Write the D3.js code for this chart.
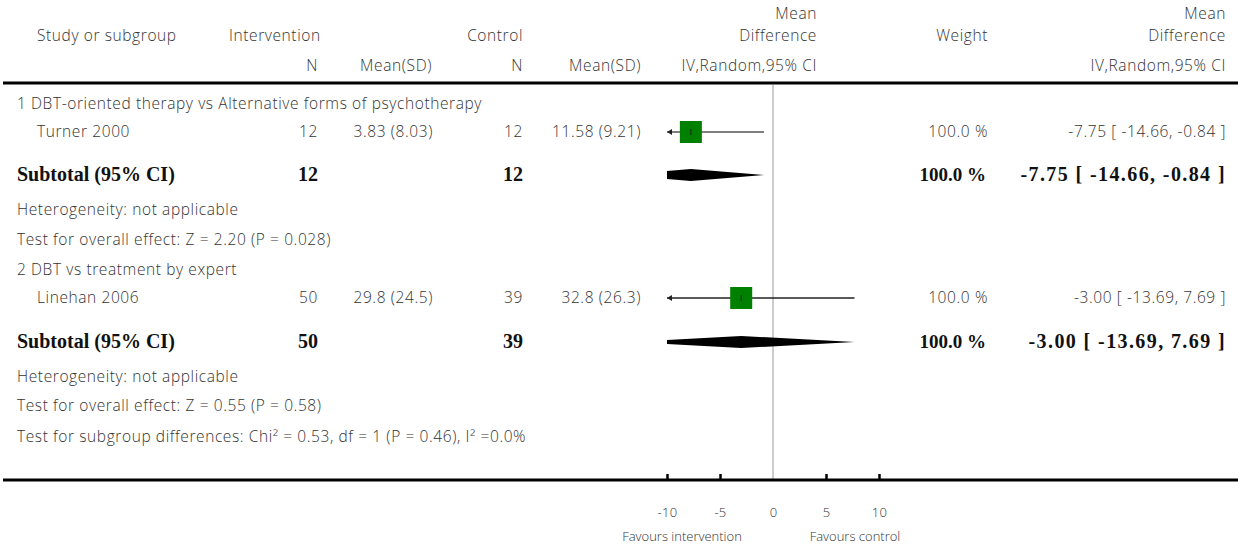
<!DOCTYPE html>
<html><head><meta charset="utf-8">
<script src="https://cdn.jsdelivr.net/npm/d3@7"></script>
<style>
body{margin:0;background:#fff;}
text{font-family:"Open Sans",Lato,sans-serif;font-size:15.5px;font-weight:300;fill:#333;letter-spacing:0.6px;}
text.b{font-family:"Liberation Serif","DejaVu Serif",serif;font-weight:bold;font-size:20px;fill:#111;letter-spacing:0;}
text.bn{letter-spacing:1.4px;}
</style></head><body>
<svg id="c" width="1238" height="547"></svg>
<script>
// ---- data ----
const groupTitles = ["1 DBT-oriented therapy vs Alternative forms of psychotherapy", "2 DBT vs treatment by expert"];
const studyNames = ["Turner 2000", "Linehan 2006"];
const nInt = [12, 50];
const meanSdInt = ["3.83 (8.03)", "29.8 (24.5)"];
const nCtl = [12, 39];
const meanSdCtl = ["11.58 (9.21)", "32.8 (26.3)"];
const md = [-7.75, -3.00];
const lo = [-14.66, -13.69];
const hi = [-0.84, 7.69];
const weights = [100.0, 100.0];
const subMd = [-7.75, -3.00];
const subLo = [-14.66, -13.69];
const subHi = [-0.84, 7.69];
const heterogeneity = ["Heterogeneity: not applicable", "Heterogeneity: not applicable"];
const overall = ["Test for overall effect: Z = 2.20 (P = 0.028)", "Test for overall effect: Z = 0.55 (P = 0.58)"];
const subgroupDiff = "Test for subgroup differences: Chi\u00B2 = 0.53, df = 1 (P = 0.46), I\u00B2 =0.0%";
const tickValues = [-10, -5, 0, 5, 10];
const domain = [-10, 10];

const svg = d3.select("#c");
const x = d3.scaleLinear().domain(domain).range([667, 879]);
const f2 = v => d3.format(".2f")(v).replace("\u2212", "-");
const ci = (m,l,h)=>`${f2(m)} [ ${f2(l)}, ${f2(h)} ]`;

function t(xp, y, s, anchor="start", cls=null){
  const e = svg.append("text").attr("x", xp).attr("y", y).attr("text-anchor", anchor).text(s);
  if(cls) e.attr("class", cls);
  return e;
}
// header
t(37, 41, "Study or subgroup");
t(229, 41, "Intervention");
t(523, 41, "Control", "end");
t(817, 19, "Mean", "end");
t(817, 41, "Difference", "end");
t(988, 41, "Weight", "end");
t(1226, 19, "Mean", "end");
t(1226, 41, "Difference", "end");
t(318, 71, "N", "end");
t(432, 71, "Mean(SD)", "end");
t(523, 71, "N", "end");
t(641, 71, "Mean(SD)", "end");
t(817, 71, "IV,Random,95% CI", "end");
t(1226, 71, "IV,Random,95% CI", "end");

svg.append("line").attr("x1", 3).attr("x2", 1238).attr("y1", 83).attr("y2", 83).attr("stroke", "#000").attr("stroke-width", 3);

// clip
svg.append("clipPath").attr("id","pc").append("rect").attr("x", x(-10)).attr("y", 85).attr("width", x(10)-x(-10)).attr("height", 390);

// zero line
svg.append("line").attr("x1", x(0)).attr("x2", x(0)).attr("y1", 85).attr("y2", 480).attr("stroke", "#999").attr("stroke-width", 1);

const groupY = [[104,132,175,210,240],[270,298,342,377,406]];
groupTitles.forEach((g,i)=>{
  const [yh, ys, ysub, yhet, yov] = groupY[i];
  t(17, yh+5, g);
  t(37, ys+5, studyNames[i]);
  t(318, ys+5, nInt[i], "end");
  t(433, ys+5, meanSdInt[i], "end");
  t(523, ys+5, nCtl[i], "end");
  t(641, ys+5, meanSdCtl[i], "end");
  t(988, ys+5, d3.format(".1f")(weights[i]) + " %", "end");
  t(1226, ys+5, ci(md[i], lo[i], hi[i]), "end");
  // CI line
  const xl = Math.max(x(lo[i]), x(-10)), xr = Math.min(x(hi[i]), x(10));
  svg.append("line").attr("x1", xl).attr("x2", xr).attr("y1", ys).attr("y2", ys).attr("stroke", i===0?"#555":"#222").attr("stroke-width", 1.3);
  if (x(lo[i]) < x(-10)) {
    svg.append("path").attr("d", `M${xl},${ys} l5,-3 l0,6 z`).attr("fill", "#222");
  }
  const s = 22;
  svg.append("rect").attr("x", x(md[i]) - s/2).attr("y", ys - s/2).attr("width", s).attr("height", s).attr("fill", "#008000");
  svg.append("line").attr("x1", x(md[i])).attr("x2", x(md[i])).attr("y1", ys-3).attr("y2", ys+3).attr("stroke", "#222").attr("stroke-width", 1);
  // subtotal
  t(17, ysub+6, "Subtotal (95% CI)", "start", "b");
  t(318, ysub+6, nInt[i], "end", "b");
  t(523, ysub+6, nCtl[i], "end", "b");
  t(986, ysub+6, d3.format(".1f")(weights[i]) + " %", "end", "b").style("font-size", "19px");
  t(1226, ysub+6, ci(subMd[i], subLo[i], subHi[i]), "end", "b bn");
  const h = 6;
  svg.append("path").attr("clip-path", "url(#pc)")
    .attr("d", `M${x(subLo[i])},${ysub} L${x(subMd[i])},${ysub-h} L${x(subHi[i])},${ysub} L${x(subMd[i])},${ysub+h} Z`)
    .attr("fill", "#000");
  t(17, yhet+5, heterogeneity[i]);
  t(17, yov+5, overall[i]);
});
t(17, 442, subgroupDiff);

// axis
svg.append("line").attr("x1", 3).attr("x2", 1238).attr("y1", 480).attr("y2", 480).attr("stroke", "#000").attr("stroke-width", 3);
const ax = svg.append("g").attr("transform", "translate(0,480)")
  .call(d3.axisTop(x).tickValues(tickValues.filter(v=>v!==0)).tickSize(6).tickFormat(""));
ax.select(".domain").remove();
ax.selectAll(".tick line").attr("stroke", "#000").attr("stroke-width", 2.5);
const lab = svg.append("g").attr("transform", "translate(0,514)")
  .call(d3.axisBottom(x).tickValues(tickValues).tickSize(0).tickFormat(v => String(v)));
lab.select(".domain").remove();
lab.selectAll(".tick text").attr("dy", 0).style("font-family", "'Open Sans', sans-serif").style("font-size", "13px").style("font-weight", "300").style("letter-spacing", "0.3px").style("fill", "#333");
t(682, 541, "Favours intervention", "middle").style("font-size", "13px").style("letter-spacing", "0");
t(855, 541, "Favours control", "middle").style("font-size", "13px").style("letter-spacing", "0");
</script></body></html>
